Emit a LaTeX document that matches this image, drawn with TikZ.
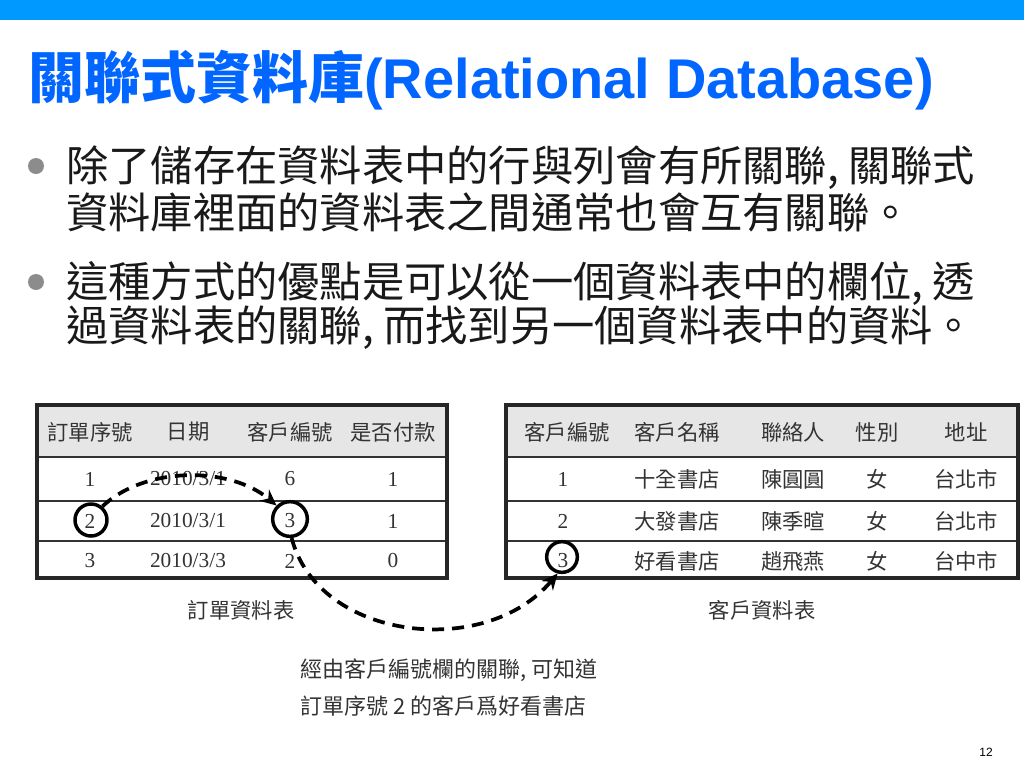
\documentclass[tikz,border=0pt]{standalone}
\usepackage{fontspec}
\setmainfont{Liberation Serif}
\newfontfamily\cjk{Noto Sans CJK TC}
\newfontfamily\arialf{Liberation Sans}
\usetikzlibrary{arrows.meta}
\definecolor{barblue}{HTML}{0099FF}
\definecolor{titleblue}{HTML}{0066FF}
\definecolor{hdrgray}{HTML}{E6E6E6}
\definecolor{txtgray}{HTML}{333333}
\definecolor{bulletgray}{HTML}{8C8C8C}
\tikzset{
  btext/.style={anchor=west, inner sep=0pt, font=\fontsize{31.7}{33}\selectfont\cjk, text=black!90},
  bdot/.style={circle, fill=bulletgray, inner sep=0pt, minimum size=12pt},
  hcell/.style={inner sep=0pt, font=\fontsize{16}{16}\selectfont\cjk, text=txtgray},
  dcell/.style={inner sep=0pt, font=\fontsize{16}{16}\selectfont, text=txtgray},
  ccell/.style={inner sep=0pt, font=\fontsize{16}{16}\selectfont\cjk, text=txtgray},
  tframe/.style={draw=black!85, line width=2.4pt},
  tline/.style={draw=black!80, line width=1.4pt},
  ring/.style={circle, draw=black, line width=2.6pt, minimum size=25pt, inner sep=0pt},
  link/.style={draw=black, line width=2.8pt, dash pattern=on 9pt off 6pt, -{Stealth[length=12pt,width=11pt]}},
  caption/.style={inner sep=0pt, font=\fontsize{16}{16}\selectfont\cjk, text=txtgray},
  note/.style={anchor=west, inner sep=0pt, font=\fontsize{16.5}{16.5}\selectfont\cjk, text=txtgray}
}
\begin{document}
\begin{tikzpicture}[x=0.75pt,y=-0.75pt]
\useasboundingbox (0,0) rectangle (1024,768);
\fill[white] (0,0) rectangle (1024,768);
\fill[barblue] (0,0) rectangle (1024,20);

% title
\node[anchor=west, inner sep=0pt, text=titleblue] (title) at (28,80)
  {\fontsize{42}{42}\selectfont\cjk\bfseries 關聯式資料庫\arialf\bfseries(Relational Database)};

% bullets
\node[bdot] (d1) at (36,166) {};
\node[btext] (l1) at (66,168) {除了儲存在資料表中的行與列會有所關聯, 關聯式};
\node[btext] (l2) at (66,212) {資料庫裡面的資料表之間通常也會互有關聯。};
\node[bdot] (d2) at (36,282) {};
\node[btext] (l3) at (66,284) {這種方式的優點是可以從一個資料表中的欄位, 透};
\node[btext] (l4) at (66,328) {過資料表的關聯, 而找到另一個資料表中的資料。};

% left table
\fill[hdrgray] (37,405) rectangle (447,457);
\draw[tline] (37,457) -- (447,457);
\draw[tline] (37,501) -- (447,501);
\draw[tline] (37,541) -- (447,541);
\draw[tframe] (37,405) rectangle (447,578);

\node[hcell] (oh1) at (90,432) {訂單序號};
\node[hcell] (oh2) at (188,432) {日期};
\node[hcell] (oh3) at (290,432) {客戶編號};
\node[hcell] (oh4) at (393,432) {是否付款};

\node[dcell] (o11) at (90,479) {1};
\node[dcell] (o12) at (188,479) {2010/3/1};
\node[dcell] (o13) at (290,479) {6};
\node[dcell] (o14) at (393,479) {1};

\node[dcell] (o21) at (90,521) {2};
\node[dcell] (o22) at (188,521) {2010/3/1};
\node[dcell] (o23) at (290,521) {3};
\node[dcell] (o24) at (393,521) {1};

\node[dcell] (o31) at (90,561) {3};
\node[dcell] (o32) at (188,561) {2010/3/3};
\node[dcell] (o33) at (290,561) {2};
\node[dcell] (o34) at (393,561) {0};

\node[caption] (ocap) at (241,610) {訂單資料表};

% right table
\fill[hdrgray] (506,405) rectangle (1018,457);
\draw[tline] (506,457) -- (1018,457);
\draw[tline] (506,501) -- (1018,501);
\draw[tline] (506,541) -- (1018,541);
\draw[tframe] (506,405) rectangle (1018,578);

\node[hcell] (ch1) at (567,432) {客戶編號};
\node[hcell] (ch2) at (677,432) {客戶名稱};
\node[hcell] (ch3) at (793,432) {聯絡人};
\node[hcell] (ch4) at (877,432) {性別};
\node[hcell] (ch5) at (966,432) {地址};

\node[dcell] (c11) at (563,479) {1};
\node[ccell] (c12) at (677,479) {十全書店};
\node[ccell] (c13) at (793,479) {陳圓圓};
\node[ccell] (c14) at (877,479) {女};
\node[ccell] (c15) at (966,479) {台北市};

\node[dcell] (c21) at (563,521) {2};
\node[ccell] (c22) at (677,521) {大發書店};
\node[ccell] (c23) at (793,521) {陳季暄};
\node[ccell] (c24) at (877,521) {女};
\node[ccell] (c25) at (966,521) {台北市};

\node[dcell] (c31) at (563,561) {3};
\node[ccell] (c32) at (677,561) {好看書店};
\node[ccell] (c33) at (793,561) {趙飛燕};
\node[ccell] (c34) at (877,561) {女};
\node[ccell] (c35) at (966,561) {台中市};

\node[caption] (ccap) at (762,610) {客戶資料表};

% rings
\node[ring, minimum size=24pt] (r1) at (91,520) {};
\node[ring, minimum size=26pt] (r2) at (290,519) {};
\node[ring, minimum size=23pt] (r3) at (562,557) {};

% links
\draw[link] (r1.50) .. controls (145,466) and (230,466) .. (r2.135);
\draw[link] (r2.-85) .. controls (318,640) and (485,660) .. (r3.-105);

% note
\node[note] (n1) at (300,670) {經由客戶編號欄的關聯, 可知道};
\node[note] (n2) at (300,706) {訂單序號 2 的客戶爲好看書店};

% page number
\node[inner sep=0pt, font=\fontsize{9}{9}\selectfont\arialf] (pg) at (986,752) {12};
\end{tikzpicture}
\end{document}
